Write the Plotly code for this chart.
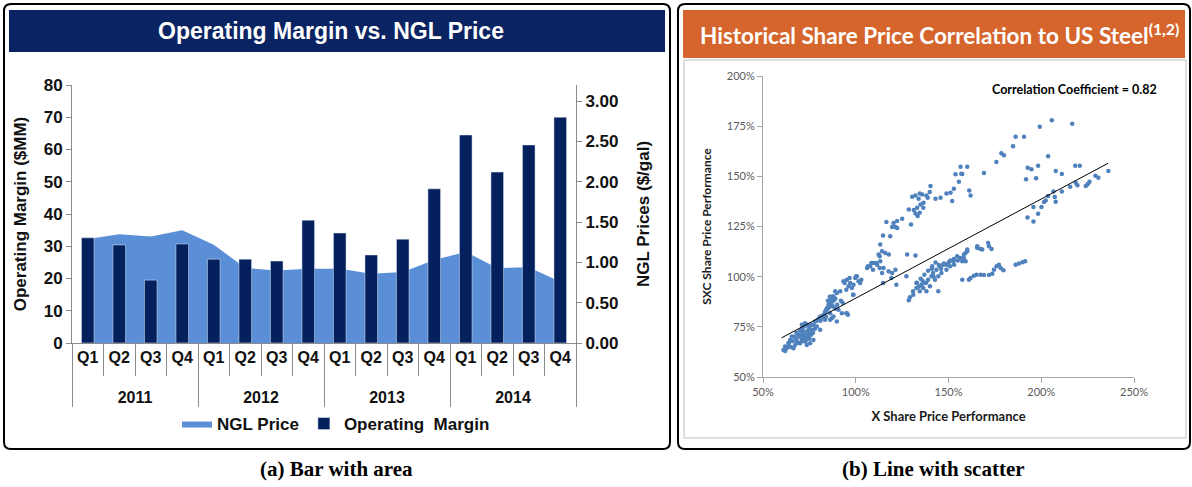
import plotly.graph_objects as go

W, H = 1192, 487

# ---- panel (a): operating margin vs NGL price ----
years = ['<br>2011'] * 4 + ['<br>2012'] * 4 + ['<br>2013'] * 4 + ['<br>2014'] * 4
quarters = ['Q1', 'Q2', 'Q3', 'Q4'] * 4
op_margin = [32.6, 30.4, 19.5, 30.7, 26.0, 26.0, 25.4, 38.1,
             34.1, 27.3, 32.2, 47.8, 64.5, 53.0, 61.4, 70.0]
ngl_price = [1.29, 1.35, 1.32, 1.40, 1.22, 0.93, 0.90, 0.92,
             0.92, 0.86, 0.88, 1.03, 1.13, 0.93, 0.94, 0.76]

# ---- panel (b): SXC vs X share price performance (%) ----
scatter_pts = [
    (205.7, 178), (199.2, 174.7), (216.7, 176.2), (186.2, 169.7), (190.7, 169.7), (184.8, 165),
    (178.5, 161.5), (179.9, 160.5), (175.8, 157.2), (169.1, 151.7), (156.5, 154.8), (160.1, 154.8),
    (157.4, 151.2), (161.2, 143), (161.9, 140.5), (203.7, 160), (192.7, 154.3), (194.7, 153.5),
    (198.3, 155.3), (191.8, 148.5), (197.2, 149), (207.8, 152.7), (211.1, 151.2), (218.3, 155.3),
    (220.8, 155.3), (236.2, 152.7), (230.8, 149.3), (229.2, 150.3), (226, 147.3), (225, 146),
    (224, 145.2), (219.5, 145.5), (218.6, 146.8), (215.6, 144.8), (211.1, 142.5), (206.6, 142.5),
    (207.3, 139.7), (207.8, 137.3), (203.7, 140.2), (202.4, 138), (201.5, 137.2), (200.1, 134.7),
    (195.8, 134.7), (198.3, 131.3), (192.6, 129.5), (195.8, 127.5),
    (153.8, 151), (156.9, 151.3), (155.6, 147.3), (152.9, 143.8), (151.1, 141.8), (148.9, 141.5),
    (145.7, 139.3), (143, 138.8), (152, 137.7),
    (140.3, 145.2), (139.9, 142.2), (138.1, 140.5), (138.8, 139.3), (135.8, 141), (134.5, 141.5),
    (133.9, 138.8), (132.2, 140.5), (130.4, 139.8), (136.5, 136.8), (134.9, 136), (133.1, 134.3),
    (131.3, 133.2), (128.6, 133.5), (134.5, 131.8), (133.4, 130.2), (132.2, 131.5), (136.4, 134.3),
    (125, 128.8), (122.3, 127.7), (120.4, 126.8), (121.4, 124.8), (119.6, 124.8), (122.3, 124.3),
    (116.5, 127.2), (129.8, 126), (118.6, 120.2), (114.7, 120.5), (113.2, 116), (114.2, 112.7),
    (112.9, 110.2), (117.8, 111), (127.7, 111), (132.2, 110.5),
    (159.2, 111.8), (160.1, 112.7), (158.3, 109.3), (157.4, 107.7), (159.2, 107.7), (165.5, 115.2),
    (167.3, 113.8), (168.2, 113.5), (171.4, 116.8), (171.8, 115.2), (173.2, 113.8),
    (157.4, 98.5), (161, 98.5), (161.9, 99.3), (163.7, 100.5), (165.1, 101), (167.3, 101),
    (169.1, 100.8), (171.8, 100.8), (173.6, 101.5), (174.5, 103.5), (175.9, 105.2), (177.2, 106),
    (178.1, 104.3), (179.6, 103.2), (186.2, 106), (188, 106.5), (189.9, 107.2), (191.3, 107.7),
    (165.5, 114.3), (160.1, 113.5), (158.3, 111), (156.5, 109.3), (154.7, 110.2), (152.9, 108.8),
    (150.2, 107.2), (147.5, 106.5), (144.8, 105.8), (141.2, 105.2),
    (128.6, 88.2), (129.2, 89.8), (130.9, 92.7), (132.7, 94.3), (134.5, 92.7), (136.4, 94.3),
    (137.3, 96.8), (135.4, 96), (139, 98.5), (140.8, 100.2), (141.7, 101.8), (143.5, 103.5),
    (145.3, 105.2), (147.1, 106), (140, 95.2), (142.7, 98.5), (144.5, 100.2), (138.1, 92.7),
    (132.7, 96.8), (146.2, 101.8), (148.9, 103.5), (150.8, 105.2), (144.5, 92.7), (152.6, 107.7),
    (135, 99), (137, 101), (139, 103), (141, 104), (143, 107), (138, 97), (136, 98), (134, 95),
    (131, 91), (133, 97), (142, 100), (146, 104), (149, 106), (151, 108), (155, 108), (153, 106),
    (119.2, 99.3), (121.9, 96), (127.3, 100.2), (114.7, 96.8),
    (96.7, 99.3), (100.3, 100.2), (94, 96.8), (94.9, 93.5), (98.5, 91), (103, 98.5),
    (106.6, 105.2), (108.4, 106.8), (111.1, 106.8), (109.3, 103.5), (112.9, 104.3), (94.9, 81.8),
    (95.8, 81),
    (61, 63.5), (62.8, 64.3), (61.9, 65.2), (66.4, 64.3), (67.3, 66), (64.6, 68.5), (65.5, 70.2),
    (63.7, 66.8), (68.2, 67.7), (70, 66.8), (70.9, 68.5), (71.8, 70.2), (72.7, 67.7), (73.6, 69.3),
    (74.5, 71), (75.4, 71.8), (71.8, 72.7), (70.9, 76), (72.7, 76.8), (74.5, 75.2), (76.3, 73.5),
    (77.2, 76), (78.1, 77.7), (79, 75.2), (80.8, 80.2), (82.6, 81), (83.5, 82.7), (84.4, 84.3),
    (85.3, 86), (86.2, 87.7), (87.1, 89.3), (88, 90.2), (88.9, 92.7), (89.8, 91.8), (91.6, 92.7),
    (86.2, 81.8), (88, 80.2), (90.7, 83.5), (92.5, 81.8), (95.2, 81.8), (86.2, 78.5), (80.8, 73.5),
    (77.2, 68.5), (73.6, 66), (75.4, 66.8),
    (93.4, 97.7), (95.2, 98.5), (97, 96.8), (98.8, 96), (99.7, 99.3), (100.6, 100.2), (101.5, 97.7),
    (96.1, 95.2), (97.9, 94.3), (102.4, 96.8), (98.8, 91), (106.1, 104.3), (107.8, 105.2),
    (109.6, 106.8), (111.5, 106), (113.2, 107.7), (112.3, 111), (115.9, 111.8), (115, 104.3),
    (117.7, 102.7), (119.6, 101.8), (121.4, 103.5), (114.2, 101.8),
    (89.8, 77.7), (87.1, 79.3), (83.5, 78.5),
    (66, 68), (67, 70), (68, 69), (69, 71), (70, 70), (71, 71), (72, 72), (73, 71), (74, 73),
    (69, 67), (71, 68), (72, 69), (73, 68), (74, 70), (75, 69), (76, 71), (77, 72), (70, 73),
    (71, 74), (72, 75), (74, 76), (75, 74), (76, 76), (78, 74), (79, 78), (80, 79), (81, 78),
    (82, 80), (83, 81), (84, 83), (85, 84), (86, 85), (87, 86), (85, 88), (87, 90), (88, 88),
    (89, 89), (86, 90), (83, 79), (84, 80), (68, 72), (64, 67), (65, 65), (63, 65), (62, 63),
    (88, 85), (90, 86), (92, 88), (93, 87), (89, 84),
]
x_perf = [p[0] for p in scatter_pts]
sxc_perf = [p[1] for p in scatter_pts]
trend_x = [60, 236]
trend_y = [69.5, 156.5]

x_ticks = [50, 100, 150, 200, 250]
x_tick_text = ['50%', '100%', '150%', '200%', '250%']
y_ticks = [50, 75, 100, 125, 150, 175, 200]
y_tick_text = ['50%', '75%', '100%', '125%', '150%', '175%', '200%']

NAVY = '#0A2463'
BAR = '#04215E'
AREA = '#5A8ED6'
ORANGE = '#D5652C'
DOT = '#4F81BD'
ARIAL = 'Liberation Sans Narrow, Liberation Sans, Arial, sans-serif'
CAL = 'Lato, Carlito, Calibri, sans-serif'


def px(x):
    return x / W


def py(y):
    return 1 - y / H


fig = go.Figure()

fig.add_trace(go.Scatter(
    x=[years, quarters], y=ngl_price, name='NGL Price', mode='lines',
    line=dict(width=0, color=AREA), fill='tozeroy', fillcolor=AREA,
    xaxis='x', yaxis='y', hoverinfo='skip'))
fig.add_trace(go.Bar(
    x=[years, quarters], y=op_margin, name='Operating  Margin',
    marker_color=BAR, width=0.4, xaxis='x', yaxis='y2'))

fig.add_trace(go.Scatter(
    x=x_perf, y=sxc_perf, mode='markers', showlegend=False,
    marker=dict(size=4.5, color=DOT), xaxis='x2', yaxis='y3'))
fig.add_trace(go.Scatter(
    x=trend_x, y=trend_y, mode='lines', showlegend=False,
    line=dict(color='black', width=1), xaxis='x2', yaxis='y3'))

lfont = dict(family=ARIAL, size=17, color='#111111', weight='bold')
cal_tick = dict(family=CAL, size=11, color='#595959')

fig.update_layout(
    width=W, height=H, autosize=False,
    margin=dict(l=0, r=0, t=0, b=0, autoexpand=False),
    paper_bgcolor='white', plot_bgcolor='rgba(0,0,0,0)',
    showlegend=True, bargap=0.6,
    legend=dict(orientation='h', x=px(336), xanchor='center', y=py(424), yanchor='middle',
                font=lfont, itemwidth=30, tracegroupgap=0, bgcolor='rgba(0,0,0,0)'),
    xaxis=dict(domain=[px(72), px(576)], anchor='y', type='multicategory', automargin=False,
               range=[-0.5, 15.5], showline=True, linecolor='#8c8c8c', linewidth=1,
               tickson='boundaries', ticks='outside', ticklen=32, tickcolor='#8c8c8c',
               tickangle=0, showdividers=True, dividercolor='#8c8c8c', dividerwidth=1,
               tickfont=dict(family=ARIAL, size=16, color='#111111', weight='bold'),
               showgrid=False, zeroline=False),
    yaxis=dict(domain=[py(343), py(85)], anchor='x', side='right', range=[0, 3.2],
               automargin=False,
               tickvals=[0, 0.5, 1, 1.5, 2, 2.5, 3], tickformat='.2f',
               showline=True, linecolor='#8c8c8c', ticks='outside', ticklen=5,
               tickcolor='#8c8c8c', tickfont=lfont, showgrid=False, zeroline=False,
               title=dict(text='NGL Prices ($/gal)', font=lfont, standoff=19)),
    yaxis2=dict(overlaying='y', side='left', range=[0, 80], dtick=10, automargin=False,
                showline=True, linecolor='#8c8c8c', ticks='outside', ticklen=5,
                tickcolor='#8c8c8c', tickfont=lfont, showgrid=False, zeroline=False,
                title=dict(text='Operating Margin ($MM)', font=lfont, standoff=12)),
    xaxis2=dict(domain=[px(763), px(1134)], anchor='y3', range=[50, 250], automargin=False,
                tickvals=x_ticks, ticktext=x_tick_text,
                showline=True, linecolor='#a6a6a6', ticks='outside', ticklen=5,
                tickcolor='#a6a6a6', tickfont=cal_tick,
                showgrid=False, zeroline=False,
                title=dict(text='X Share Price Performance', standoff=14,
                           font=dict(family=CAL, size=13, color='#1a1a1a', weight='bold'))),
    yaxis3=dict(domain=[py(377), py(76)], anchor='x2', range=[50, 200], automargin=False,
                tickvals=y_ticks, ticktext=y_tick_text,
                showline=True, linecolor='#a6a6a6', ticks='outside', ticklen=5,
                tickcolor='#a6a6a6', tickfont=cal_tick,
                showgrid=False, zeroline=False,
                title=dict(text='SXC Share Price Performance', standoff=12,
                           font=dict(family=CAL, size=12, color='#1a1a1a', weight='bold'))),
)


def rounded(x0, y0, x1, y1, r):
    rx, ry = r / W, r / H
    a, b, c, d = px(x0), py(y0), px(x1), py(y1)
    return (f'M {a + rx},{b} L {c - rx},{b} Q {c},{b} {c},{b - ry} '
            f'L {c},{d + ry} Q {c},{d} {c - rx},{d} L {a + rx},{d} '
            f'Q {a},{d} {a},{d + ry} L {a},{b - ry} Q {a},{b} {a + rx},{b} Z')


shapes = [
    dict(type='path', path=rounded(4, 4, 670, 449, 7), line=dict(color='black', width=2)),
    dict(type='path', path=rounded(678, 4, 1190, 449, 7), line=dict(color='black', width=2)),
    dict(type='rect', x0=px(9), x1=px(665), y0=py(52), y1=py(10), fillcolor=NAVY, line_width=0),
    dict(type='rect', x0=px(683), x1=px(1185), y0=py(58), y1=py(10), fillcolor=ORANGE, line_width=0),
    dict(type='rect', x0=px(684), x1=px(1186), y0=py(438), y1=py(60),
         line=dict(color='#bfbfbf', width=1)),
]
for s in shapes:
    s.update(xref='paper', yref='paper', layer='below')
    fig.add_shape(**s)

annos = [
    dict(x=px(331), y=py(31), text='Operating Margin vs. NGL Price',
         font=dict(family=ARIAL, size=23, color='white', weight='bold')),
    dict(x=px(939), y=py(34), text='Historical Share Price Correlation to US Steel<sup>(1,2)</sup>',
         font=dict(family=CAL, size=22.5, color='white', weight='bold')),
    dict(x=px(1159), y=py(90), xanchor='right', text='Correlation Coefficient = 0.82',
         font=dict(family=CAL, size=12.5, color='black', weight='bold')),
    dict(x=px(336), y=py(469), text='(a) Bar with area',
         font=dict(family='Liberation Serif, Times New Roman, serif', size=21, color='black', weight='bold')),
    dict(x=px(934), y=py(469), text='(b) Line with scatter',
         font=dict(family='Liberation Serif, Times New Roman, serif', size=21, color='black', weight='bold')),
]
for a in annos:
    a.setdefault('xanchor', 'center')
    fig.add_annotation(xref='paper', yref='paper', yanchor='middle', showarrow=False, **a)

fig.write_html('out.html', config={'displayModeBar': False},
               post_script="document.body.style.margin='0';")
